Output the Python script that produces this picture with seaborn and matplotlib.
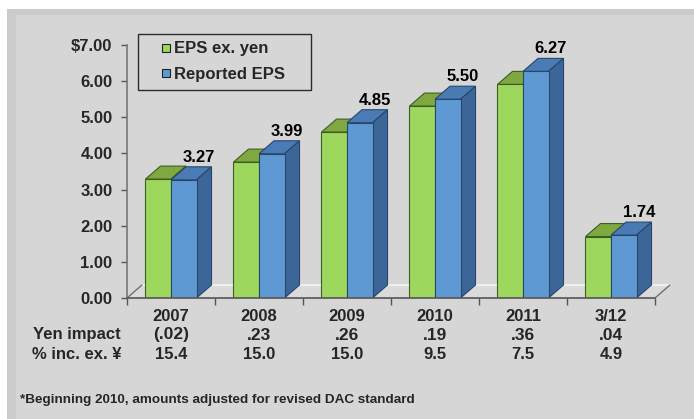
import pandas as pd
import seaborn as sns
import matplotlib.pyplot as plt
from matplotlib.patches import Polygon, Rectangle
from matplotlib.lines import Line2D
from matplotlib import transforms

# Dati
periods = ['2007', '2008', '2009', '2010', '2011', '3/12']
eps_ex_yen = [3.29, 3.76, 4.59, 5.31, 5.91, 1.70]
reported_eps = [3.27, 3.99, 4.85, 5.50, 6.27, 1.74]
yen_impact = ['(.02)', '.23', '.26', '.19', '.36', '.04']
pct_inc_ex_yen = ['15.4', '15.0', '15.0', '9.5', '7.5', '4.9']
series_names = ['EPS ex. yen', 'Reported EPS']

# Colori (fronte, tetto, lato, bordo)
green = ('#9dd75d', '#7fa940', '#6c9636', '#3d5e22')
blue = ('#5f99d3', '#4b7bb5', '#3d6698', '#27466b')

sns.set_theme(style='white')
plt.rcParams['font.family'] = ['Liberation Sans', 'DejaVu Sans']
plt.rcParams['font.weight'] = 'bold'

df = pd.DataFrame({
    'Periodo': periods * 2,
    'EPS': eps_ex_yen + reported_eps,
    'Serie': [series_names[0]] * len(periods) + [series_names[1]] * len(periods),
})

W, H = 694, 419
fig = plt.figure(figsize=(W / 100, H / 100), dpi=100, facecolor='white')

# Sfondo grigio con cornice
fig.patches.append(Rectangle((7 / W, 0), 1, 1 - 9 / H, transform=fig.transFigure,
                             facecolor='#cbcbcb', edgecolor='none', zorder=-10))
fig.patches.append(Rectangle((16 / W, 0), 1, 1 - 15 / H, transform=fig.transFigure,
                             facecolor='#d6d6d6', edgecolor='none', zorder=-9))

ax = fig.add_axes([127 / W, 121 / H, 528 / W, 253 / H])
ax.set_facecolor('none')

sns.barplot(data=df, x='Periodo', y='EPS', hue='Serie', palette=[green[0], blue[0]],
            width=0.58, legend=False, ax=ax, saturation=1)

ax.set_xlim(-0.5, 5.5)
ax.set_ylim(0, 7)

# profondita' 3D in unita' dati
dx = 15 / 88
dy = 13 / (253 / 7)

n = len(periods)
for i, p in enumerate(list(ax.patches)):
    cols = green if i < n else blue
    z = 3 if i < n else 5
    x0 = p.get_x()
    w = p.get_width()
    h = p.get_height()
    x1 = x0 + w
    p.set_edgecolor(cols[3])
    p.set_linewidth(0.8)
    p.set_zorder(z)
    top = Polygon([(x0, h), (x1, h), (x1 + dx, h + dy), (x0 + dx, h + dy)],
                  closed=True, facecolor=cols[1], edgecolor=cols[3], lw=0.8, zorder=z - 0.5)
    side = Polygon([(x1, 0), (x1 + dx, dy), (x1 + dx, h + dy), (x1, h)],
                   closed=True, facecolor=cols[2], edgecolor=cols[3], lw=0.8, zorder=z - 0.5)
    ax.add_patch(top)
    ax.add_patch(side)
    if i >= n:
        ax.annotate(f'{reported_eps[i - n]:.2f}', (x0 + w / 2 + dx, h + dy),
                    xytext=(0, 1.5), textcoords='offset points', ha='center', va='bottom',
                    fontsize=12, fontweight='bold', color='black', zorder=6)

# pavimento
xl, xr = -0.5, 5.5
ax.add_patch(Polygon([(xl, 0), (xr, 0), (xr + dx, dy), (xl + dx, dy)], closed=True,
                     facecolor='#dadada', edgecolor='none', zorder=1, clip_on=False))
ax.plot([xl + dx, xr + dx], [dy, dy], color='#f4f4f4', lw=1.2, zorder=1.5, clip_on=False)
ax.plot([xl, xl + dx], [0, dy], color='#707070', lw=1, zorder=1.5, clip_on=False)
ax.plot([xr, xr + dx], [0, dy], color='#707070', lw=1, zorder=1.5, clip_on=False)
ax.plot([xl, xr], [0, 0], color='#555555', lw=1.2, zorder=7, clip_on=False)

for s in ['top', 'right', 'bottom']:
    ax.spines[s].set_visible(False)
ax.spines['left'].set_color('#777777')
ax.spines['left'].set_linewidth(1.2)

ax.set_yticks(range(8))
ax.set_yticklabels(['$7.00' if v == 7 else f'{v:.2f}' for v in range(8)])
ax.tick_params(axis='y', direction='out', length=4, width=1, color='#555555', pad=6.5,
               labelsize=12, left=True)
ax.set_xticks([i - 0.5 for i in range(n + 1)], minor=True)
ax.tick_params(axis='x', which='minor', direction='out', length=5, width=1, color='#555555',
               bottom=True)
ax.tick_params(axis='x', which='major', length=0, pad=8, labelsize=12)
for lab in ax.get_xticklabels() + ax.get_yticklabels():
    lab.set_fontweight('bold')
ax.set_xlabel('')
ax.set_ylabel('')

# righe sotto l'asse
tr = transforms.blended_transform_factory(ax.transData, fig.transFigure)
for i in range(n):
    ax.text(i, 1 - 335 / H, yen_impact[i], transform=tr, ha='center', va='center',
            fontsize=12.5, fontweight='bold')
    ax.text(i, 1 - 354 / H, pct_inc_ex_yen[i], transform=tr, ha='center', va='center',
            fontsize=12, fontweight='bold')
fig.text(121 / W, 1 - 335 / H, 'Yen impact', ha='right', va='center', fontsize=12,
         fontweight='bold')
fig.text(121 / W, 1 - 354 / H, '% inc. ex. ¥', ha='right', va='center', fontsize=12,
         fontweight='bold')
fig.text(20 / W, 1 - 400 / H, '*Beginning 2010, amounts adjusted for revised DAC standard',
         ha='left', va='center', fontsize=9.7, fontweight='bold')

# legenda
handles = [Line2D([], [], ls='none', marker='s', markersize=5.5, markerfacecolor=green[0],
                  markeredgecolor='#222222', markeredgewidth=0.8, label=series_names[0]),
           Line2D([], [], ls='none', marker='s', markersize=5.5, markerfacecolor=blue[0],
                  markeredgecolor='#222222', markeredgewidth=0.8, label=series_names[1])]
leg = fig.legend(handles=handles, loc='upper left',
                 bbox_to_anchor=(138 / W, 1 - 91 / H, 173 / W, 57 / H), mode='expand',
                 frameon=True, fancybox=False, edgecolor='black', facecolor='none',
                 prop={'weight': 'bold', 'size': 12}, handlelength=2.4, numpoints=1,
                 handletextpad=-0.7, labelspacing=0.65, borderpad=0.45, borderaxespad=0)
leg.get_frame().set_linewidth(1)

plt.savefig('out.png', dpi=100, facecolor=fig.get_facecolor())
